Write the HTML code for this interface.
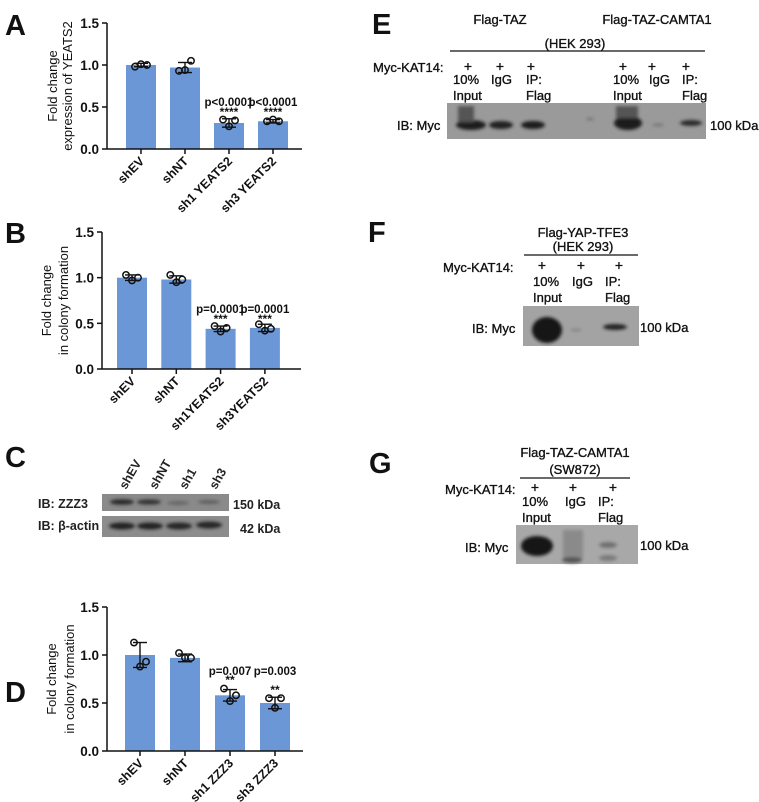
<!DOCTYPE html>
<html><head><meta charset="utf-8">
<style>
html,body{margin:0;padding:0;background:#fff;}
svg{display:block;font-family:"Liberation Sans",Arial,sans-serif;}
.cal{font-family:"Liberation Sans",Arial,sans-serif;stroke:#111;stroke-width:0.35;}
</style></head>
<body>
<svg id="fig" width="759" height="802" viewBox="0 0 759 802" xmlns="http://www.w3.org/2000/svg">
<defs>
<filter id="bl" x="-50%" y="-100%" width="200%" height="300%"><feGaussianBlur stdDeviation="1.6"/></filter>
</defs>
<g font-weight="bold" font-size="29" fill="#111">
<text x="5" y="35">A</text>
<text x="5" y="243">B</text>
<text x="5" y="467">C</text>
<text x="5" y="702">D</text>
<text x="372" y="34">E</text>
<text x="368" y="242">F</text>
<text x="369" y="473">G</text>
</g>
<g id="charts"></g>

<g>
<g font-size="12.5" font-weight="bold" fill="#222">
<text transform="translate(126,490) rotate(-60)">shEV</text>
<text transform="translate(156,490) rotate(-60)">shNT</text>
<text transform="translate(186,490) rotate(-60)">sh1</text>
<text transform="translate(216,490) rotate(-60)">sh3</text>
<text x="38" y="508">IB: ZZZ3</text>
<text x="38" y="530">IB: β-actin</text>
<text x="233" y="509">150 kDa</text>
<text x="240" y="533">42 kDa</text>
</g>
<rect x="102" y="494" width="127" height="17" fill="#8a8a8a"/>
<rect x="102" y="516" width="127" height="21" fill="#8c8c8c"/>
<g filter="url(#bl)">
<ellipse cx="122" cy="502" rx="12" ry="2.8" fill="#2a2a2a"/>
<ellipse cx="149" cy="502" rx="12" ry="2.6" fill="#333"/>
<ellipse cx="178" cy="503" rx="11" ry="2" fill="#666"/>
<ellipse cx="209" cy="502" rx="11" ry="2" fill="#5e5e5e"/>
<ellipse cx="122" cy="526" rx="13" ry="3.5" fill="#222"/>
<ellipse cx="150" cy="526" rx="13" ry="3.5" fill="#222"/>
<ellipse cx="179" cy="526" rx="13" ry="3.5" fill="#252525"/>
<ellipse cx="209" cy="525" rx="13" ry="3.5" fill="#252525"/>
</g>
</g>

<g class="cal" fill="#111" font-size="13">
<text x="500" y="24" text-anchor="middle">Flag-TAZ</text>
<text x="657" y="24" text-anchor="middle">Flag-TAZ-CAMTA1</text>
<text x="575" y="48" text-anchor="middle">(HEK 293)</text>
<line x1="450" y1="51" x2="705" y2="51" stroke="#111" stroke-width="1.2"/>
<text x="373" y="72">Myc-KAT14:</text>
<g font-size="14"><text x="468" y="71" text-anchor="middle">+</text><text x="500" y="71" text-anchor="middle">+</text><text x="531" y="71" text-anchor="middle">+</text><text x="623" y="71" text-anchor="middle">+</text><text x="652" y="71" text-anchor="middle">+</text><text x="686" y="71" text-anchor="middle">+</text></g>
<text x="453" y="84">10%</text><text x="491" y="84">IgG</text><text x="526" y="84">IP:</text>
<text x="453" y="100">Input</text><text x="526" y="100">Flag</text>
<text x="613" y="84">10%</text><text x="649" y="84">IgG</text><text x="682" y="84">IP:</text>
<text x="613" y="100">Input</text><text x="682" y="100">Flag</text>
<text x="397" y="130">IB: Myc</text>
<text x="710" y="130">100 kDa</text>
<rect x="447" y="103" width="259" height="36" fill="#9a9a9a" stroke="none"/>
<g filter="url(#bl)" stroke="none">
<ellipse cx="471" cy="125" rx="15" ry="5" fill="#1a1a1a"/>
<rect x="458" y="106" width="16" height="16" fill="#555"/>
<ellipse cx="501" cy="125" rx="12" ry="4" fill="#222"/>
<ellipse cx="533" cy="125" rx="12" ry="4" fill="#1f1f1f"/>
<ellipse cx="590" cy="119" rx="4" ry="1.5" fill="#777"/>
<ellipse cx="628" cy="123" rx="14" ry="7" fill="#1a1a1a"/>
<rect x="616" y="106" width="22" height="12" fill="#555"/>
<ellipse cx="658" cy="125" rx="6" ry="1.5" fill="#777"/>
<ellipse cx="691" cy="123" rx="11" ry="3" fill="#2a2a2a"/>
</g>
</g>

<g class="cal" fill="#111" font-size="13">
<text x="583" y="237" text-anchor="middle">Flag-YAP-TFE3</text>
<text x="583" y="251" text-anchor="middle">(HEK 293)</text>
<line x1="524" y1="255" x2="638" y2="255" stroke="#111" stroke-width="1.2"/>
<text x="443" y="272">Myc-KAT14:</text>
<g font-size="14"><text x="542" y="270" text-anchor="middle">+</text><text x="581" y="270" text-anchor="middle">+</text><text x="619" y="270" text-anchor="middle">+</text></g>
<text x="533" y="286">10%</text><text x="572" y="286">IgG</text><text x="605" y="286">IP:</text>
<text x="533" y="302">Input</text><text x="605" y="302">Flag</text>
<text x="472" y="333">IB: Myc</text>
<text x="640" y="332">100 kDa</text>
<rect x="523" y="306" width="116" height="40" fill="#a3a3a3" stroke="none"/>
<g filter="url(#bl)" stroke="none">
<ellipse cx="547" cy="330" rx="15" ry="13" fill="#151515"/>
<ellipse cx="576" cy="330" rx="6" ry="1.5" fill="#888"/>
<ellipse cx="615" cy="327" rx="12" ry="3" fill="#222"/>
</g>
</g>

<g class="cal" fill="#111" font-size="13">
<text x="575" y="457" text-anchor="middle">Flag-TAZ-CAMTA1</text>
<text x="575" y="474" text-anchor="middle">(SW872)</text>
<line x1="520" y1="478" x2="630" y2="478" stroke="#111" stroke-width="1.2"/>
<text x="445" y="494">Myc-KAT14:</text>
<g font-size="14"><text x="535" y="492" text-anchor="middle">+</text><text x="573" y="492" text-anchor="middle">+</text><text x="613" y="492" text-anchor="middle">+</text></g>
<text x="522" y="506">10%</text><text x="565" y="506">IgG</text><text x="598" y="506">IP:</text>
<text x="522" y="522">Input</text><text x="598" y="522">Flag</text>
<text x="465" y="552">IB: Myc</text>
<text x="640" y="550">100 kDa</text>
<rect x="516" y="525" width="122" height="39" fill="#a8a8a8" stroke="none"/>
<g filter="url(#bl)" stroke="none">
<ellipse cx="537" cy="546" rx="16" ry="10" fill="#121212"/>
<rect x="563" y="530" width="20" height="30" fill="#8a8a8a"/>
<ellipse cx="572" cy="560" rx="10" ry="3" fill="#555"/>
<ellipse cx="608" cy="545" rx="9" ry="3" fill="#707070"/>
<ellipse cx="608" cy="558" rx="9" ry="3" fill="#7a7a7a"/>
</g>
</g>
</svg>
<script>
const categoriesA = ["shEV", "shNT", "sh1 YEATS2", "sh3 YEATS2"];
const meansA = [1.0, 0.97, 0.31, 0.33];
const errA = [0.02, 0.06, 0.05, 0.02];
const pointsA = [[0.98, 1.01, 1.00], [0.93, 0.94, 1.05], [0.35, 0.27, 0.34], [0.33, 0.35, 0.33]];
const pLabelsA = ["", "", "p<0.0001", "p<0.0001"];
const starsA = ["", "", "****", "****"];

const categoriesB = ["shEV", "shNT", "sh1YEATS2", "sh3YEATS2"];
const meansB = [1.0, 0.98, 0.44, 0.45];
const errB = [0.03, 0.04, 0.03, 0.04];
const pointsB = [[1.03, 0.97, 1.00], [1.03, 0.95, 0.98], [0.47, 0.41, 0.45], [0.49, 0.42, 0.44]];
const pLabelsB = ["", "", "p=0.0001", "p=0.0001"];
const starsB = ["", "", "***", "***"];

const categoriesD = ["shEV", "shNT", "sh1 ZZZ3", "sh3 ZZZ3"];
const meansD = [1.0, 0.97, 0.58, 0.50];
const errD = [0.13, 0.04, 0.06, 0.06];
const pointsD = [[1.13, 0.88, 0.93], [1.02, 0.97, 0.97], [0.65, 0.52, 0.58], [0.55, 0.45, 0.55]];
const pLabelsD = ["", "", "p=0.007", "p=0.003"];
const starsD = ["", "", "**", "**"];

const yTicks = [0, 0.5, 1.0, 1.5];
const yTickLabels = ["0.0", "0.5", "1.0", "1.5"];

const NS = "http://www.w3.org/2000/svg";
function mk(tag, attrs, parent) {
  const e = document.createElementNS(NS, tag);
  for (const k in attrs) e.setAttribute(k, attrs[k]);
  parent.appendChild(e);
  return e;
}
const root = document.getElementById("charts");

function drawChart(cfg) {
  const g = mk("g", {}, root);
  
  
  const y = v => cfg.y0 - (v / 1.5) * (cfg.y0 - cfg.y15);
  const x = i => cfg.bx0 + i * cfg.step;
  cfg.means.forEach((m, i) => {
    const r = mk("rect", {x: x(i) - cfg.bw / 2, y: y(m), width: cfg.bw, height: cfg.y0 - y(m), fill: "#6b97d6"}, g);
    
    
  });
  cfg.means.forEach((m, i) => {
    const cx = x(i), e = cfg.err[i];
    const eg = mk("g", {stroke: "#111", "stroke-width": 1.4, fill: "none"}, g);
    
    
    mk("line", {x1: cx, x2: cx, y1: y(m + e), y2: y(m - e)}, eg);
    mk("line", {x1: cx - 7, x2: cx + 7, y1: y(m + e), y2: y(m + e)}, eg);
    mk("line", {x1: cx - 7, x2: cx + 7, y1: y(m - e), y2: y(m - e)}, eg);
    cfg.pts[i].forEach((p, j) => {
      const c = mk("circle", {cx: cx + (j - 1) * 6, cy: y(p), r: 3.2, fill: "none", stroke: "#111", "stroke-width": 1.5}, g);
      
      
    });
    if (cfg.pl[i]) {
      const t = mk("text", {x: cx, y: cfg.pY, "text-anchor": "middle", "font-size": 11.5, "font-weight": "bold", fill: "#111"}, g);
      t.textContent = cfg.pl[i];
      
      
    }
    if (cfg.st[i]) {
      const s = mk("text", {x: cx, y: cfg.sY[i], "text-anchor": "middle", "font-size": 12, "font-weight": "bold", fill: "#111"}, g);
      s.textContent = cfg.st[i];
      
      
    }
  });
  const ax = mk("g", {stroke: "#111", "stroke-width": 1.5}, g);
  
  
  mk("line", {x1: cfg.ax, x2: cfg.ax, y1: y(1.5), y2: cfg.y0}, ax);
  mk("line", {x1: cfg.ax, x2: cfg.axEnd, y1: cfg.y0, y2: cfg.y0}, ax);
  yTicks.forEach((t, k) => {
    mk("line", {x1: cfg.ax - 5, x2: cfg.ax, y1: y(t), y2: y(t)}, ax);
    const tl = mk("text", {x: cfg.ax - 8, y: y(t) + 5, "text-anchor": "end", "font-size": 13.5, "font-weight": "bold", fill: "#111"}, g);
    tl.textContent = yTickLabels[k];
    
    
  });
  cfg.cats.forEach((c, i) => {
    mk("line", {x1: x(i), x2: x(i), y1: cfg.y0, y2: cfg.y0 + 5}, ax);
    const tl = mk("text", {transform: `translate(${x(i) + 4},${cfg.y0 + 13}) rotate(-45)`, "text-anchor": "end", "font-size": 12.5, "font-weight": "bold", fill: "#111"}, g);
    tl.textContent = c;
    
    
  });
  const yc = (cfg.y0 + y(1.5)) / 2;
  cfg.title.forEach((line, k) => {
    const t = mk("text", {transform: `translate(${cfg.tx[k]},${yc}) rotate(-90)`, "text-anchor": "middle", "font-size": 13, fill: "#111"}, g);
    t.textContent = line;
    
    
  });
}

drawChart({name: "chart-a", cats: categoriesA, means: meansA, err: errA, pts: pointsA, pl: pLabelsA, st: starsA,
  y0: 149, y15: 23, ax: 107, axEnd: 302, bx0: 141, step: 44, bw: 30, pY: 106, sY: [0, 0, 116, 116],
  title: ["Fold change", "expression of YEATS2"], tx: [57, 72]});
drawChart({name: "chart-b", cats: categoriesB, means: meansB, err: errB, pts: pointsB, pl: pLabelsB, st: starsB,
  y0: 369, y15: 232, ax: 102, axEnd: 301, bx0: 132, step: 44.3, bw: 30, pY: 313, sY: [0, 0, 323, 323],
  title: ["Fold change", "in colony formation"], tx: [51, 68]});
drawChart({name: "chart-d", cats: categoriesD, means: meansD, err: errD, pts: pointsD, pl: pLabelsD, st: starsD,
  y0: 751, y15: 607, ax: 107, axEnd: 303, bx0: 140, step: 45, bw: 30, pY: 675, sY: [0, 0, 684, 694],
  title: ["Fold change", "in colony formation"], tx: [56, 74]});
</script>
</body></html>
